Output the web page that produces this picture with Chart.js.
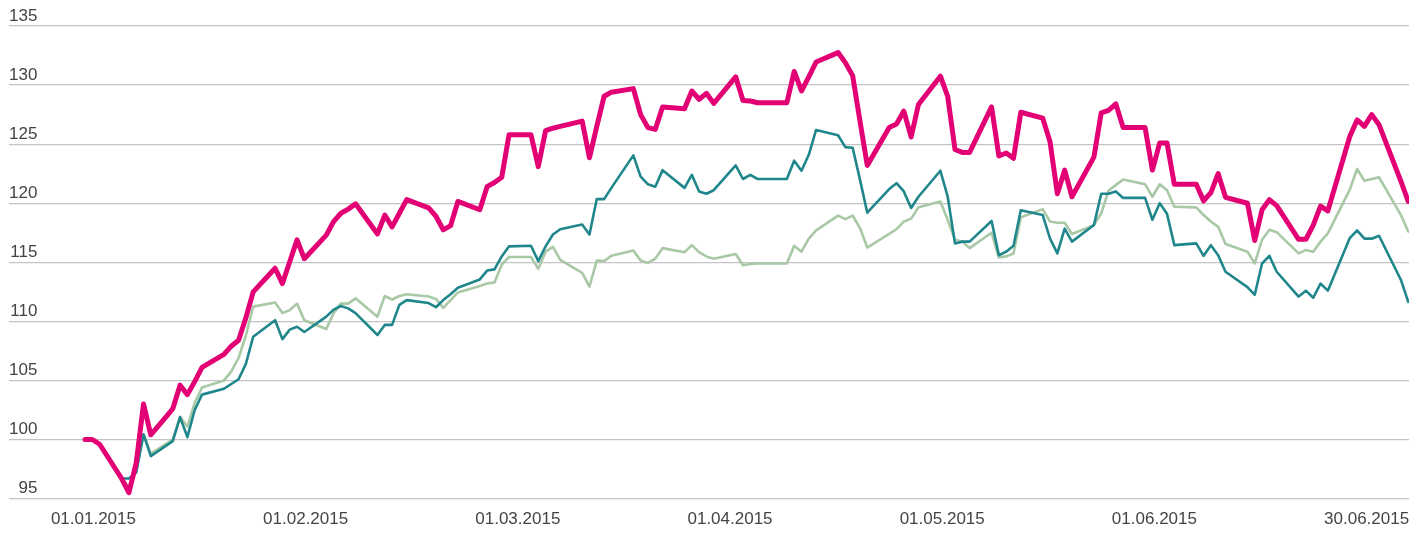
<!DOCTYPE html>
<html>
<head>
<meta charset="utf-8">
<script src="https://cdn.jsdelivr.net/npm/chart.js@4.4.1/dist/chart.umd.min.js"></script>
<style>
    html, body { margin: 0; padding: 0; background: #ffffff; }
    #wrap { position: relative; width: 1422px; height: 560px; }
</style>
</head>
<body>
<div id="wrap"><canvas id="indexChart"></canvas></div>
<script>
// Axis labels
const xTickLabels = ['01.01.2015', '01.02.2015', '01.03.2015', '01.04.2015', '01.05.2015', '01.06.2015', '30.06.2015'];
const yTicks = [95, 100, 105, 110, 115, 120, 125, 130, 135];

// Trading days (weekdays) from 31.12.2014 to 30.06.2015
const firstDay = Date.UTC(2014, 11, 31);
const lastDay = Date.UTC(2015, 5, 30);

// Series values, one per trading day, indexed to 100
const magentaSeries = [
    100, 100, 99.6,
    96.7, 95.5, 98.0, 103.0, 100.4,
    102.6, 104.6, 103.8, 104.9, 106.1,
    107.2, 107.9, 108.4, 110.3, 112.5,
    114.5, 113.2, 115.05, 116.9, 115.3,
    117.3, 118.45, 119.15, 119.5, 119.95,
    117.4, 119.0, 118.0, 119.15, 120.3,
    119.6, 118.9, 117.75, 118.1, 120.15,
    119.45, 121.4, 121.75, 122.2, 125.8,
    125.8, 123.1, 126.15, 126.35, 126.5,
    126.95, 123.85, 126.5, 129.05, 129.4,
    129.7, 127.5, 126.4, 126.25, 128.15,
    128.0, 129.5, 128.8, 129.3, 128.45,
    130.7, 128.7, 128.65, 128.5, 128.5,
    128.5, 131.15, 129.5, 130.7, 131.95,
    132.75, 131.9, 130.8, 126.95, 123.2,
    126.4, 126.7, 127.8, 125.6, 128.35,
    130.75, 129.05, 124.55, 124.3, 124.3,
    128.15, 124.0, 124.25, 123.8, 127.7,
    127.2, 125.2, 120.8, 122.8, 120.55,
    123.9, 127.65, 127.85, 128.4, 126.4,
    126.4, 122.8, 125.1, 125.1, 121.6,
    121.6, 120.2, 120.9, 122.5, 120.5,
    120.0, 116.85, 119.45, 120.3, 119.8,
    116.95, 116.95, 118.15, 119.75, 119.35,
    125.65, 127.05, 126.5, 127.5, 126.65,
    121.85, 120.15
];
const tealSeries = [
    100, 100, 99.6,
    96.7, 96.7, 97.2, 100.45, 98.6,
    99.86, 101.9, 100.2, 102.5, 103.8,
    104.3, 104.7, 105.1, 106.4, 108.7,
    110.1, 108.5, 109.3, 109.55, 109.1,
    110.4, 111.0, 111.3, 111.1, 110.7,
    108.85, 109.7, 109.7, 111.4, 111.8,
    111.55, 111.2, 111.8, 112.3, 112.85,
    113.55, 114.3, 114.4, 115.5, 116.35,
    116.4, 115.1, 116.35, 117.35, 117.8,
    118.2, 117.35, 120.35, 120.35, 121.3,
    124.05, 122.25, 121.6, 121.4, 122.8,
    121.3, 122.4, 121.0, 120.8, 121.1,
    123.2, 122.05, 122.4, 122.05, 122.05,
    122.05, 123.6, 122.75, 124.1, 126.2,
    125.75, 124.75, 124.7, 122.0, 119.2,
    121.2, 121.7, 121.0, 119.6, 120.55,
    122.75, 120.55, 116.6, 116.75, 116.75,
    118.5, 115.6, 115.9, 116.4, 119.4,
    119.0, 117.0, 115.75, 117.85, 116.75,
    118.15, 120.8, 120.8, 121.0, 120.45,
    120.45, 118.6, 120.0, 119.1, 116.45,
    116.6, 115.55, 116.45, 115.6, 114.2,
    112.9, 112.25, 114.9, 115.55, 114.2,
    112.1, 112.6, 112.0, 113.2, 112.6,
    117.05, 117.7, 117.0, 117.0, 117.25,
    113.5, 111.65
];
const greenSeries = [
    100, 100, 99.6,
    96.6, 96.0, 97.4, 100.4, 98.8,
    100.0, 101.9, 101.1, 103.1, 104.4,
    105.0, 105.75, 106.9, 108.8, 111.25,
    111.6, 110.7, 110.95, 111.5, 110.1,
    109.35, 110.7, 111.5, 111.5, 111.95,
    110.4, 112.15, 111.85, 112.15, 112.3,
    112.1, 111.9, 111.15, 111.8, 112.45,
    113.0, 113.2, 113.3, 114.8, 115.45,
    115.45, 114.45, 115.9, 116.3, 115.2,
    114.1, 112.95, 115.15, 115.1, 115.55,
    116.0, 115.15, 114.95, 115.3, 116.2,
    115.85, 116.45, 115.85, 115.5, 115.3,
    115.7, 114.75, 114.85, 114.9, 114.9,
    114.9, 116.4, 115.9, 117.0, 117.7,
    118.95, 118.65, 118.95, 117.9, 116.25,
    117.4, 117.8, 118.45, 118.7, 119.65,
    120.15, 118.6, 116.9, 116.75, 116.2,
    117.5, 115.4, 115.5, 115.75, 118.8,
    119.5, 118.45, 118.35, 118.35, 117.4,
    118.15, 119.15, 121.05, 121.55, 122.0,
    121.6, 120.55, 121.6, 121.1, 119.7,
    119.65, 119.0, 118.45, 118.0, 116.55,
    115.9, 114.9, 116.9, 117.75, 117.55,
    115.75, 116.05, 115.9, 116.75, 117.45,
    121.15, 122.9, 121.9, 122.05, 122.2,
    119.0, 117.6
];

document.addEventListener('DOMContentLoaded', function() {
    initializeIndexChart();
});

// Day offsets of all weekdays, counted from the first day
function buildTradingDays() {
    const days = [];
    for (let t = firstDay; t <= lastDay; t += 86400000) {
        const wd = new Date(t).getUTCDay();
        if (wd !== 0 && wd !== 6) {
            days.push(Math.round((t - firstDay) / 86400000));
        }
    }
    return days;
}

function toPoints(days, values) {
    return values.map((v, i) => ({ x: days[i], y: v }));
}

function initializeIndexChart() {
    const days = buildTradingDays();
    const ctx = document.getElementById('indexChart').getContext('2d');

    // label positions on the x axis are spread evenly, not by date
    const labelFrom = 1.15;
    const labelTo = 175.3;
    const labelStep = (labelTo - labelFrom) / (xTickLabels.length - 1);

    new Chart(ctx, {
        type: 'line',
        data: {
            datasets: [{
                label: 'Magenta',
                data: toPoints(days, magentaSeries),
                borderColor: '#e20074',
                borderWidth: 5,
                order: 1
            }, {
                label: 'Teal',
                data: toPoints(days, tealSeries),
                borderColor: '#1f878c',
                borderWidth: 2.6,
                order: 2
            }, {
                label: 'Green',
                data: toPoints(days, greenSeries),
                borderColor: '#a8c8a6',
                borderWidth: 2.6,
                order: 3
            }]
        },
        options: {
            responsive: true,
            maintainAspectRatio: false,
            animation: false,
            layout: {
                padding: { left: 9, right: 13, top: 26, bottom: 19 }
            },
            elements: {
                point: { radius: 0, hoverRadius: 0 },
                line: { tension: 0, borderJoinStyle: 'round', borderCapStyle: 'round', fill: false }
            },
            plugins: {
                legend: { display: false },
                tooltip: { enabled: false }
            },
            scales: {
                x: {
                    type: 'linear',
                    min: -10.4,
                    max: 181.1,
                    grid: { display: false, drawTicks: false },
                    border: { display: false },
                    afterBuildTicks: function(axis) {
                        axis.ticks = xTickLabels.map((l, i) => ({ value: labelFrom + i * labelStep }));
                    },
                    ticks: {
                        autoSkip: false,
                        maxRotation: 0,
                        padding: 11,
                        color: '#444444',
                        font: { family: '"Liberation Sans", Arial, sans-serif', size: 17 },
                        callback: function(value, index) {
                            return xTickLabels[index];
                        }
                    }
                },
                y: {
                    min: 95,
                    max: 135,
                    afterBuildTicks: function(axis) {
                        axis.ticks = yTicks.map(v => ({ value: v }));
                    },
                    grid: { color: '#c4c4c4', lineWidth: 1.3, drawTicks: false },
                    border: { display: false },
                    ticks: {
                        mirror: true,
                        crossAlign: 'far',
                        padding: 0,
                        labelOffset: -10,
                        color: '#444444',
                        font: { family: '"Liberation Sans", Arial, sans-serif', size: 17 }
                    }
                }
            }
        }
    });
}
</script>
</body>
</html>
